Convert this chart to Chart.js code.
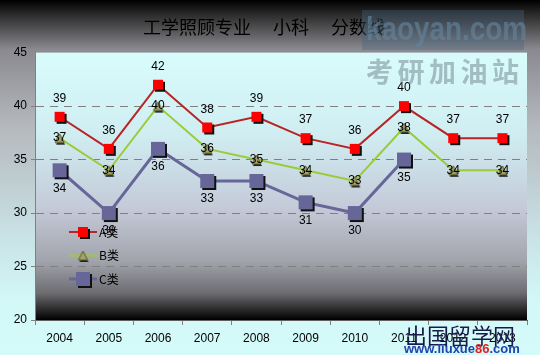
<!DOCTYPE html>
<html>
<head>
<meta charset="utf-8">
<script src="https://cdn.jsdelivr.net/npm/chart.js@4"></script>
<style>
  html, body { margin: 0; padding: 0; background: #d4f6f6; }
  canvas { display: block; }
</style>
</head>
<body>
<canvas id="scoreChart" width="540" height="355"></canvas>
<script>
const years = ['2004', '2005', '2006', '2007', '2008', '2009', '2010', '2011', '2012', '2013'];
const classA = [39, 36, 42, 38, 39, 37, 36, 40, 37, 37];
const classB = [37, 34, 40, 36, 35, 34, 33, 38, 34, 34];
const classC = [34, 30, 36, 33, 33, 31, 30, 35, null, null];
const yTicks = [20, 25, 30, 35, 40, 45];

// marker images with a little dark shadow, like the old excel look
function squareMarker(size, fill) {
    const c = document.createElement('canvas');
    c.width = size + 6; c.height = size + 6;
    const g = c.getContext('2d');
    g.fillStyle = '#111';
    g.fillRect(5, 5, size, size);
    g.fillStyle = fill;
    g.fillRect(3, 3, size, size);
    return c;
}
function triMarker(size, fill) {
    const c = document.createElement('canvas');
    c.width = size + 6; c.height = size + 6;
    const g = c.getContext('2d');
    const tri = (dx, dy) => {
        g.beginPath();
        g.moveTo(3 + size / 2 + dx, 3 + dy);
        g.lineTo(3 + size + dx, 3 + size + dy);
        g.lineTo(3 + dx, 3 + size + dy);
        g.closePath();
    };
    g.fillStyle = '#222';
    tri(1, 2); g.fill();
    g.fillStyle = fill;
    tri(0, 0); g.fill();
    g.strokeStyle = '#5a5a2a';
    g.lineWidth = 1;
    g.stroke();
    return c;
}

const markA = squareMarker(10, '#ff0000');
const markB = triMarker(9, '#a3a36a');
const markC = squareMarker(14, '#666699');

const bgPlugin = {
    id: 'bg',
    beforeDraw(chart) {
        const { ctx, chartArea: a, width, height } = chart;
        ctx.save();
        let g = ctx.createLinearGradient(0, 0, 0, height);
        g.addColorStop(0, '#000000');
        g.addColorStop(0.04, '#2a2a2a');
        g.addColorStop(0.14, '#8a8a90');
        g.addColorStop(0.35, '#b4b8bc');
        g.addColorStop(0.65, '#c8e0e4');
        g.addColorStop(0.85, '#d2f8f8');
        g.addColorStop(1, '#d4fafa');
        ctx.fillStyle = g;
        ctx.fillRect(0, 0, width, height);
        g = ctx.createLinearGradient(0, a.top, 0, a.bottom);
        g.addColorStop(0, '#d8fcfc');
        g.addColorStop(0.3, '#d0eef2');
        g.addColorStop(0.58, '#c4cad8');
        g.addColorStop(0.78, '#a2a4ac');
        g.addColorStop(0.9, '#6c6c70');
        g.addColorStop(1, '#000000');
        ctx.fillStyle = g;
        ctx.fillRect(a.left, a.top, a.right - a.left, a.bottom - a.top);
        ctx.restore();
    }
};

// value labels: A above, B on the point, C below
const labelPlugin = {
    id: 'valueLabels',
    afterDatasetsDraw(chart) {
        const ctx = chart.ctx;
        const shift = [-18, 0, 18];
        ctx.save();
        ctx.font = '12px "Liberation Sans", Arial, sans-serif';
        ctx.fillStyle = '#000';
        ctx.textAlign = 'center';
        ctx.textBaseline = 'middle';
        chart.data.datasets.forEach((ds, i) => {
            chart.getDatasetMeta(i).data.forEach((pt, j) => {
                if (ds.data[j] == null) return;
                ctx.fillText(ds.data[j], pt.x, pt.y + shift[i]);
            });
        });
        ctx.restore();
    }
};

// legend sits inside the plot, lower left
const legendPlugin = {
    id: 'innerLegend',
    afterDraw(chart) {
        const ctx = chart.ctx;
        ctx.save();
        ctx.font = '12px "Noto Sans CJK SC", sans-serif';
        ctx.textBaseline = 'middle';
        chart.data.datasets.forEach((ds, i) => {
            const y = 232 + i * 23.5;
            ctx.strokeStyle = ds.borderColor;
            ctx.lineWidth = ds.borderWidth;
            ctx.beginPath();
            ctx.moveTo(69, y);
            ctx.lineTo(97, y);
            ctx.stroke();
            const img = ds.pointStyle;
            ctx.drawImage(img, 83 - img.width / 2, y - img.height / 2);
            ctx.fillStyle = '#000';
            ctx.fillText(ds.label, 99, y);
        });
        ctx.restore();
    }
};

// the site stamps on the original picture
const stampPlugin = {
    id: 'stamps',
    afterDraw(chart) {
        const ctx = chart.ctx;
        ctx.save();
        ctx.fillStyle = 'rgba(70,100,130,0.35)';
        ctx.fillRect(362, 10, 162, 40);
        ctx.save();
        ctx.translate(366, 31);
        ctx.scale(0.82, 1);
        ctx.fillStyle = 'rgba(100,130,155,0.65)';
        ctx.font = 'bold 34px "Liberation Sans", Arial, sans-serif';
        ctx.textBaseline = 'middle';
        ctx.fillText('kaoyan.com', 0, 0);
        ctx.restore();
        ctx.fillStyle = 'rgba(120,140,150,0.55)';
        ctx.font = 'bold 27px "Noto Sans CJK SC", sans-serif';
        ctx.textBaseline = 'middle';
        [...'考研加油站'].forEach((ch, k) => ctx.fillText(ch, 366 + k * 31.5, 72));
        ctx.fillStyle = '#1a1a4a';
        ctx.font = '22px "Noto Sans CJK SC", sans-serif';
        ctx.fillText('出国留学网', 405, 336);
        ctx.font = 'bold 13px "Liberation Sans", Arial, sans-serif';
        ctx.fillStyle = '#2244aa';
        ctx.fillText('www.liuxue', 404, 349);
        let x = 404 + ctx.measureText('www.liuxue').width;
        ctx.fillStyle = '#dd2222';
        ctx.fillText('86', x, 349);
        x += ctx.measureText('86').width;
        ctx.fillStyle = '#2244aa';
        ctx.fillText('.com', x, 349);
        ctx.restore();
    }
};

new Chart(document.getElementById('scoreChart'), {
    type: 'line',
    data: {
        labels: years,
        datasets: [
            { label: 'A类', data: classA, borderColor: '#b82424', borderWidth: 2, pointStyle: markA, pointRadius: 7 },
            { label: 'B类', data: classB, borderColor: '#9acc3a', borderWidth: 2, pointStyle: markB, pointRadius: 7 },
            { label: 'C类', data: classC, borderColor: '#666699', borderWidth: 3, pointStyle: markC, pointRadius: 10 }
        ]
    },
    options: {
        responsive: false,
        animation: false,
        devicePixelRatio: 1,
        layout: { padding: { right: 12 } },
        plugins: {
            legend: { display: false },
            tooltip: { enabled: false },
            title: {
                display: true,
                text: '工学照顾专业　 小科　 分数线',
                color: '#000',
                font: { family: '"Noto Sans CJK SC", sans-serif', size: 18, weight: 'normal' },
                padding: { top: 16, bottom: 15 }
            }
        },
        scales: {
            x: {
                offset: true,
                grid: { display: true, drawOnChartArea: false, offset: true, color: '#808080', tickLength: 5 },
                border: { color: '#606060', width: 1 },
                ticks: { color: '#000', padding: 6, font: { family: '"Liberation Sans", Arial', size: 12 } },
                afterFit(s) { s.width = s.width; s.height = 35; }
            },
            y: {
                min: 20,
                max: 45,
                afterBuildTicks(s) { s.ticks = yTicks.map(v => ({ value: v })); },
                grid: {
                    color: c => (c.tick && c.tick.value === 45 ? 'rgba(0,0,0,0)' : '#808080'),
                    tickLength: 4,
                    lineWidth: 1
                },
                border: { color: '#808080', dash: [8, 6] },
                ticks: { color: '#000', padding: 4, font: { family: '"Liberation Sans", Arial', size: 12 } },
                afterFit(s) { s.width = 35; }
            }
        }
    },
    plugins: [bgPlugin, labelPlugin, legendPlugin, stampPlugin]
});
</script>
</body>
</html>
